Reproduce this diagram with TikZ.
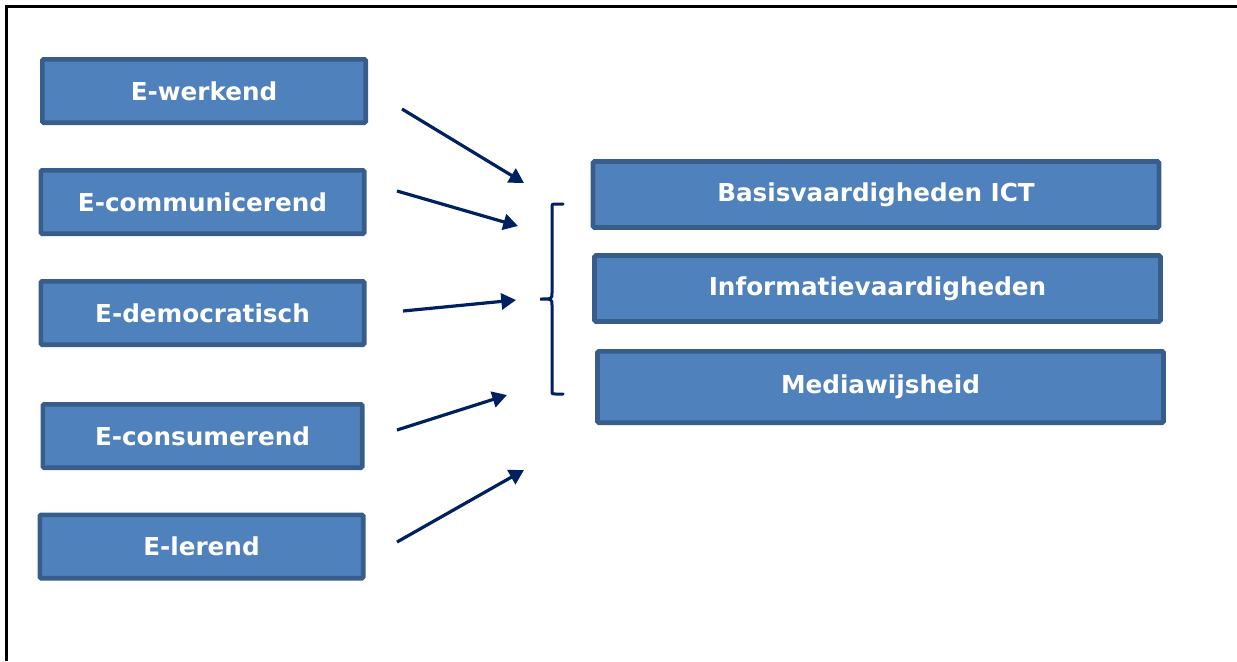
\documentclass[tikz,border=0pt]{standalone}
\usepackage{fontspec}
\setmainfont{DejaVu Sans}
\usetikzlibrary{arrows.meta}

\definecolor{boxfill}{HTML}{4F81BD}
\definecolor{boxline}{HTML}{385D8A}
\definecolor{navy}{HTML}{002060}

\begin{document}
\begin{tikzpicture}[
  x=0.75pt, y=-0.75pt,
  box/.style={rectangle, draw=boxline, fill=boxfill, line width=3.5pt,
    rounded corners=1pt, text=white, font=\fontsize{18.5}{22}\selectfont\bfseries,
    minimum width=242.5pt, minimum height=47.5pt, inner sep=0pt},
  goal/.style={box, minimum width=424.5pt, minimum height=49.5pt},
  edge/.style={-{Triangle[length=11pt, width=12pt]}, line width=2.4pt, draw=navy},
  brace/.style={draw=navy, line width=2.25pt, line cap=round}
]
\useasboundingbox (0,0) rectangle (1237,661);

% frame
\draw[line width=2.25pt] (1237,6) -- (6,6) -- (6,661);

% left column
\node[box] (werkend) at (204,91) {E-werkend};
\node[box] (communicerend) at (202.5,202) {E-communicerend};
\node[box] (democratisch) at (202.5,313) {E-democratisch};
\node[box, minimum width=239.5pt] (consumerend) at (202.5,436) {E-consumerend};
\node[box] (lerend) at (201.5,546.5) {E-lerend};

% right column
\node[goal] (basis) at (876,194.5) {Basisvaardigheden ICT};
\node[goal] (informatie) at (877.5,288.5) {Informatievaardigheden};
\node[goal, minimum height=53.5pt] (media) at (880.5,387) {Mediawijsheid};

% arrow ends
\coordinate (werkend-out) at (402,109);
\coordinate (werkend-in) at (524,183);
\coordinate (communicerend-out) at (397,191);
\coordinate (communicerend-in) at (518,226);
\coordinate (democratisch-out) at (403,311);
\coordinate (democratisch-in) at (516,300);
\coordinate (consumerend-out) at (397,430);
\coordinate (consumerend-in) at (507,395);
\coordinate (lerend-out) at (397,542);
\coordinate (lerend-in) at (524,470);

\draw[edge] (werkend-out) -- (werkend-in);
\draw[edge] (communicerend-out) -- (communicerend-in);
\draw[edge] (democratisch-out) -- (democratisch-in);
\draw[edge] (consumerend-out) -- (consumerend-in);
\draw[edge] (lerend-out) -- (lerend-in);

% brace
\draw[brace] (563,204) -- (556,204) .. controls (552,204) .. (552,208)
  -- (552,293) .. controls (552,299) .. (540,299)
  .. controls (552,299) .. (552,305) -- (552,390)
  .. controls (552,394) .. (556,394) -- (563,394);
\end{tikzpicture}
\end{document}
